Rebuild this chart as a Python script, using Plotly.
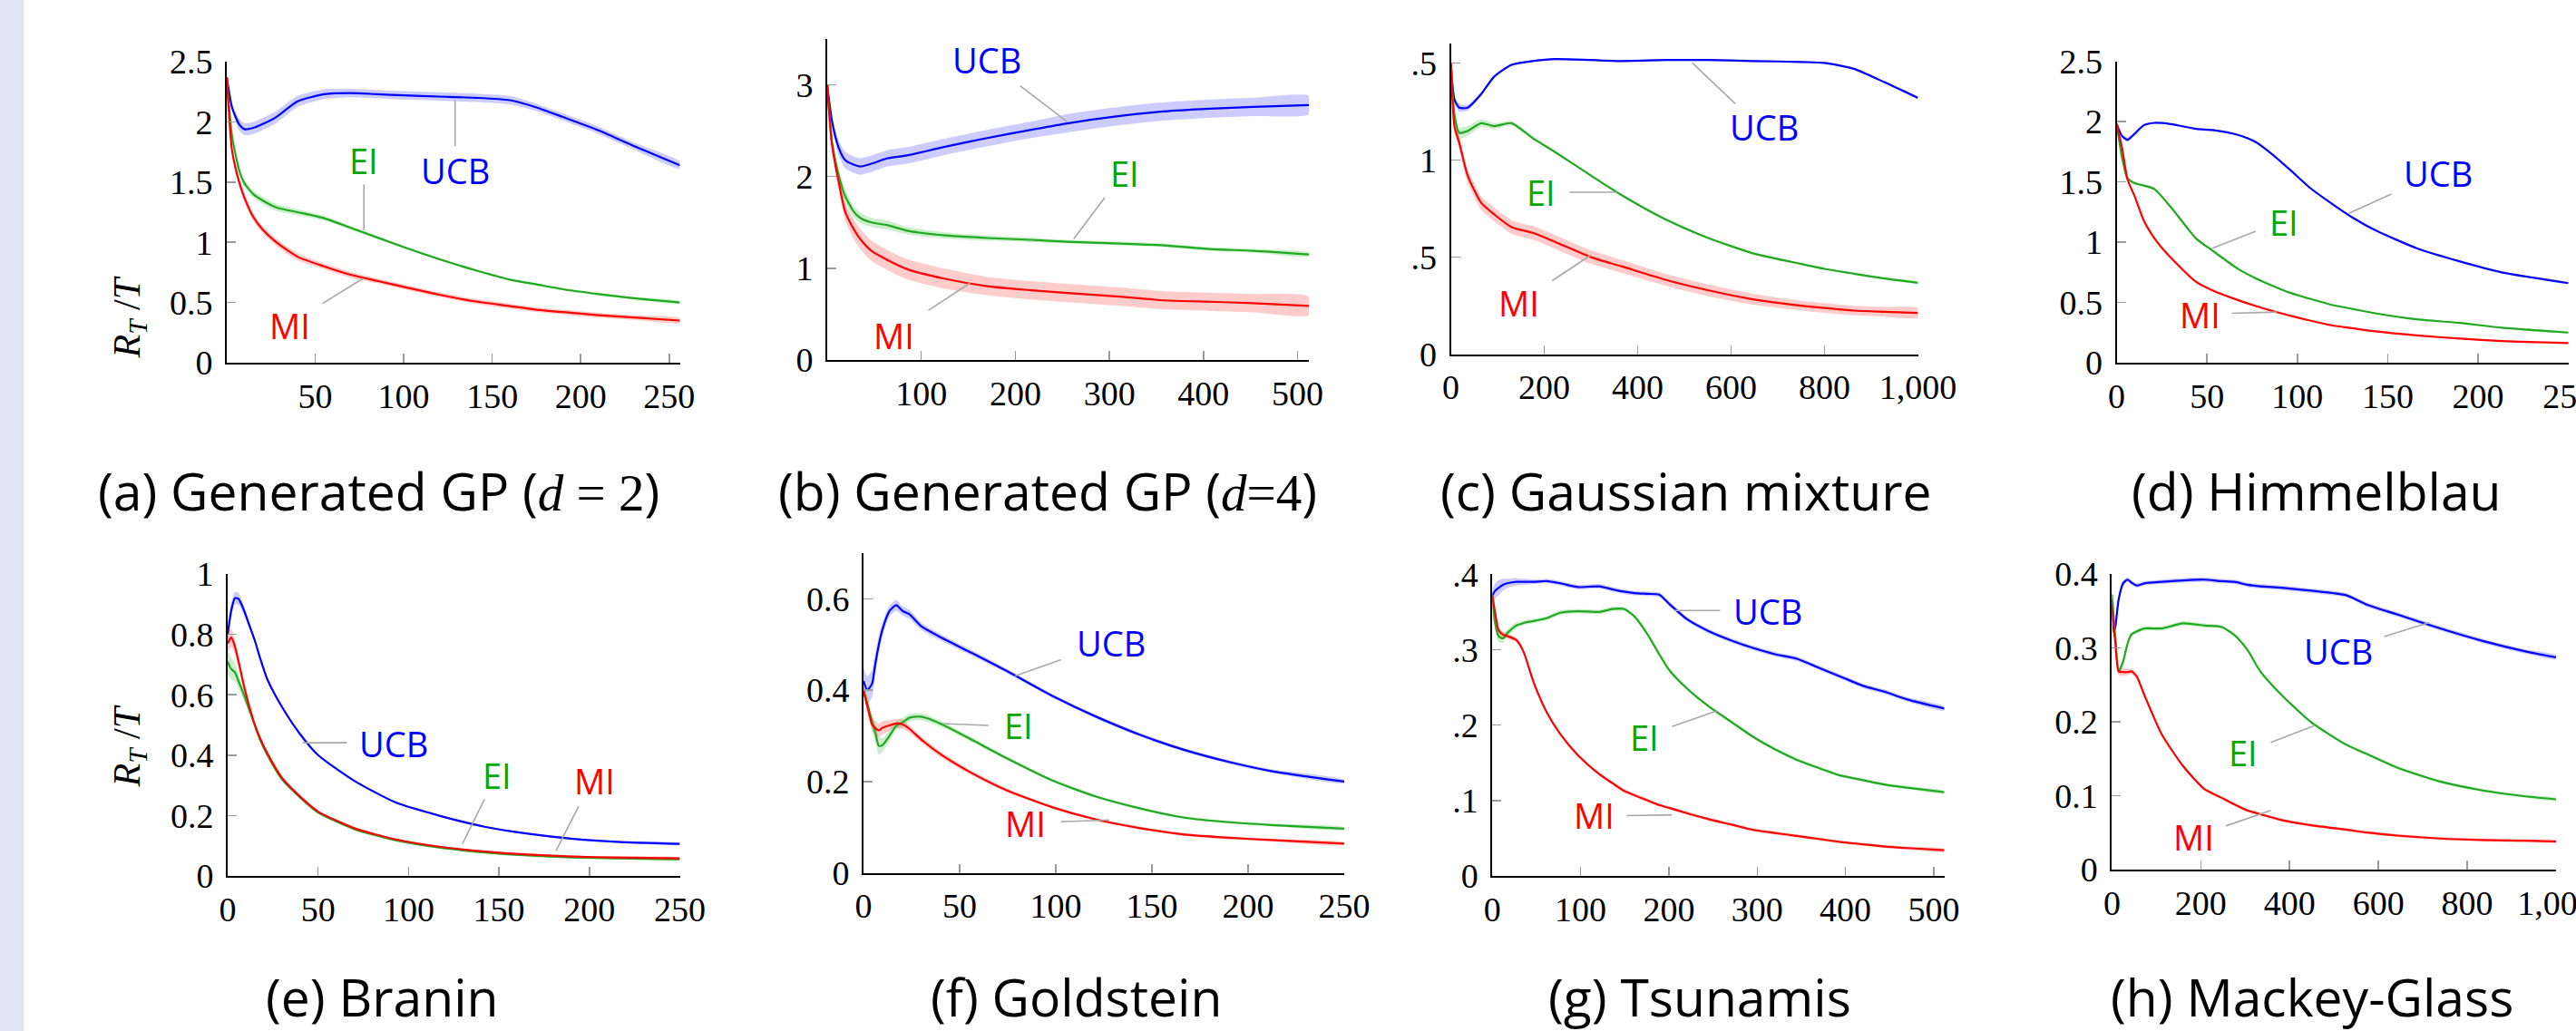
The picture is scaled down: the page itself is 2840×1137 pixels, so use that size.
import numpy as np
import plotly.graph_objects as go

W, H = 2840, 1137

# ---------------- data ----------------
# (a) Generated GP (d = 2)
A_X = [0, 3, 7, 10, 15, 20, 28, 40, 55, 70, 85, 100, 120, 140, 160, 175, 190, 210, 230, 256]
A_UCB = [2.37, 2.12, 1.98, 1.94, 1.95, 1.98, 2.04, 2.17, 2.23, 2.24, 2.23, 2.22, 2.21, 2.20, 2.18, 2.12, 2.04, 1.93, 1.80, 1.64]
A_EI = [2.37, 1.88, 1.60, 1.49, 1.40, 1.35, 1.29, 1.25, 1.20, 1.12, 1.04, 0.96, 0.86, 0.77, 0.69, 0.65, 0.61, 0.57, 0.535, 0.50]
A_MI = [2.37, 1.76, 1.50, 1.37, 1.21, 1.11, 1.00, 0.88, 0.80, 0.73, 0.68, 0.63, 0.565, 0.51, 0.47, 0.44, 0.42, 0.395, 0.375, 0.35]
A_UCB_SD = [0.0, 0.03, 0.05, 0.05, 0.05, 0.05, 0.05, 0.045, 0.04, 0.035, 0.035, 0.035, 0.035, 0.035, 0.035, 0.03, 0.03, 0.03, 0.03, 0.03]
A_EI_SD = [0.0, 0.02, 0.03, 0.03, 0.03, 0.03, 0.03, 0.025, 0.02, 0.015, 0.012, 0.01, 0.01, 0.01, 0.01, 0.01, 0.01, 0.01, 0.01, 0.01]
A_MI_SD = [0.0, 0.03, 0.04, 0.04, 0.035, 0.03, 0.03, 0.03, 0.025, 0.025, 0.02, 0.02, 0.02, 0.02, 0.02, 0.02, 0.02, 0.02, 0.02, 0.02]

# (b) Generated GP (d=4)
B_X = [0, 5, 12, 19, 28, 35, 47, 64, 85, 123, 170, 217, 255, 311, 358, 406, 453, 512]
B_UCB = [3.0, 2.61, 2.32, 2.18, 2.13, 2.11, 2.14, 2.20, 2.23, 2.32, 2.42, 2.51, 2.58, 2.66, 2.71, 2.74, 2.76, 2.78]
B_EI = [3.0, 2.38, 2.02, 1.79, 1.62, 1.55, 1.50, 1.47, 1.41, 1.36, 1.33, 1.31, 1.29, 1.27, 1.25, 1.21, 1.19, 1.15]
B_MI = [3.0, 2.35, 1.95, 1.62, 1.43, 1.32, 1.19, 1.09, 0.99, 0.89, 0.805, 0.76, 0.73, 0.69, 0.65, 0.635, 0.62, 0.59]
B_UCB_SD = [0.0, 0.05, 0.08, 0.09, 0.09, 0.09, 0.09, 0.09, 0.09, 0.09, 0.09, 0.09, 0.1, 0.1, 0.1, 0.1, 0.1, 0.1]
B_EI_SD = [0.0, 0.05, 0.07, 0.07, 0.06, 0.06, 0.05, 0.05, 0.04, 0.035, 0.03, 0.025, 0.02, 0.02, 0.02, 0.02, 0.02, 0.02]
B_MI_SD = [0.0, 0.06, 0.09, 0.1, 0.11, 0.11, 0.11, 0.11, 0.11, 0.11, 0.1, 0.1, 0.1, 0.1, 0.1, 0.1, 0.1, 0.1]

# (c) Gaussian mixture
C_X = [0, 8, 18, 36, 65, 93, 130, 177, 224, 300, 365, 459, 550, 647, 750, 800, 863, 929, 1000]
C_UCB = [1.50, 1.31, 1.27, 1.27, 1.34, 1.43, 1.49, 1.51, 1.52, 1.515, 1.51, 1.515, 1.515, 1.51, 1.505, 1.50, 1.47, 1.40, 1.32]
C_EI = [1.50, 1.23, 1.14, 1.15, 1.19, 1.175, 1.19, 1.11, 1.04, 0.92, 0.82, 0.695, 0.60, 0.52, 0.465, 0.44, 0.415, 0.39, 0.368]
C_MI = [1.50, 1.17, 1.09, 0.92, 0.78, 0.72, 0.655, 0.624, 0.578, 0.50, 0.453, 0.384, 0.33, 0.283, 0.25, 0.238, 0.225, 0.219, 0.213]
C_UCB_SD = [0.0, 0.02, 0.02, 0.015, 0.01, 0.008, 0.005, 0.005, 0.005, 0.005, 0.005, 0.005, 0.005, 0.005, 0.005, 0.005, 0.005, 0.005, 0.005]
C_EI_SD = [0.0, 0.03, 0.03, 0.025, 0.02, 0.015, 0.01, 0.008, 0.005, 0.005, 0.005, 0.005, 0.005, 0.005, 0.005, 0.005, 0.005, 0.005, 0.005]
C_MI_SD = [0.0, 0.03, 0.035, 0.035, 0.035, 0.035, 0.035, 0.035, 0.035, 0.035, 0.033, 0.03, 0.03, 0.028, 0.025, 0.025, 0.025, 0.025, 0.025]

# (d) Himmelblau
D_X = [0, 3, 6, 10, 15, 21, 30, 44, 53, 67, 77, 86, 96, 107, 119, 131, 143, 166, 190, 213, 250]
D_UCB = [1.98, 1.88, 1.85, 1.90, 1.97, 1.99, 1.98, 1.94, 1.93, 1.89, 1.83, 1.73, 1.60, 1.45, 1.32, 1.20, 1.10, 0.95, 0.84, 0.75, 0.66]
D_EI = [1.98, 1.70, 1.53, 1.49, 1.47, 1.44, 1.29, 1.03, 0.93, 0.78, 0.70, 0.64, 0.58, 0.53, 0.48, 0.445, 0.41, 0.36, 0.33, 0.29, 0.25]
D_MI = [1.98, 1.78, 1.52, 1.38, 1.18, 1.03, 0.87, 0.67, 0.60, 0.52, 0.47, 0.43, 0.39, 0.35, 0.31, 0.285, 0.26, 0.226, 0.20, 0.18, 0.163]
D_UCB_SD = [0.0, 0.015, 0.02, 0.015, 0.01, 0.008, 0.006, 0.005, 0.005, 0.005, 0.005, 0.005, 0.005, 0.005, 0.005, 0.005, 0.005, 0.005, 0.005, 0.005, 0.005]
D_EI_SD = [0.0, 0.015, 0.015, 0.012, 0.01, 0.008, 0.006, 0.005, 0.005, 0.005, 0.005, 0.005, 0.005, 0.005, 0.005, 0.005, 0.005, 0.005, 0.005, 0.005, 0.005]
D_MI_SD = [0.0, 0.008, 0.008, 0.006, 0.005, 0.005, 0.005, 0.005, 0.005, 0.005, 0.005, 0.005, 0.005, 0.005, 0.005, 0.005, 0.005, 0.005, 0.005, 0.005, 0.005]

# (e) Branin
E_X = [0, 2, 4, 6, 9, 12, 15, 18, 22, 30, 40, 50, 70, 93, 118, 142, 166, 191, 215, 250]
E_UCB = [0.80, 0.88, 0.92, 0.918, 0.88, 0.83, 0.78, 0.72, 0.65, 0.56, 0.47, 0.40, 0.315, 0.243, 0.198, 0.163, 0.14, 0.123, 0.113, 0.106]
E_EI = [0.71, 0.685, 0.675, 0.645, 0.60, 0.55, 0.50, 0.45, 0.40, 0.32, 0.26, 0.21, 0.155, 0.118, 0.093, 0.078, 0.068, 0.061, 0.058, 0.055]
E_MI = [0.77, 0.79, 0.76, 0.71, 0.63, 0.56, 0.50, 0.455, 0.405, 0.325, 0.263, 0.213, 0.158, 0.121, 0.096, 0.081, 0.071, 0.064, 0.061, 0.058]
E_UCB_SD = [0.03, 0.025, 0.02, 0.02, 0.015, 0.01, 0.008, 0.006, 0.005, 0.004, 0.003, 0.003, 0.003, 0.003, 0.003, 0.003, 0.003, 0.003, 0.003, 0.003]
E_EI_SD = [0.04, 0.035, 0.03, 0.025, 0.02, 0.015, 0.01, 0.008, 0.006, 0.004, 0.003, 0.003, 0.003, 0.003, 0.003, 0.003, 0.003, 0.003, 0.003, 0.003]
E_MI_SD = [0.03, 0.03, 0.025, 0.02, 0.015, 0.012, 0.01, 0.008, 0.006, 0.004, 0.003, 0.003, 0.003, 0.003, 0.003, 0.003, 0.003, 0.003, 0.003, 0.003]

# (f) Goldstein
F_X = [0, 2, 4.5, 6, 8, 10, 13.5, 17, 20.5, 24, 30, 41, 57, 75, 98, 121, 144, 167, 190, 212, 250]
F_UCB = [0.42, 0.40, 0.415, 0.454, 0.50, 0.535, 0.573, 0.586, 0.573, 0.566, 0.54, 0.514, 0.48, 0.441, 0.388, 0.342, 0.302, 0.269, 0.243, 0.223, 0.20]
F_EI = [0.40, 0.37, 0.33, 0.31, 0.278, 0.28, 0.30, 0.322, 0.33, 0.34, 0.342, 0.325, 0.29, 0.25, 0.203, 0.167, 0.141, 0.121, 0.111, 0.105, 0.097]
F_MI = [0.40, 0.365, 0.325, 0.318, 0.312, 0.318, 0.323, 0.327, 0.325, 0.315, 0.292, 0.257, 0.217, 0.18, 0.144, 0.117, 0.098, 0.084, 0.077, 0.072, 0.064]
F_UCB_SD = [0.03, 0.03, 0.03, 0.025, 0.02, 0.015, 0.012, 0.012, 0.01, 0.01, 0.008, 0.007, 0.006, 0.005, 0.004, 0.004, 0.004, 0.004, 0.004, 0.004, 0.004]
F_EI_SD = [0.01, 0.015, 0.02, 0.02, 0.02, 0.015, 0.012, 0.01, 0.01, 0.008, 0.008, 0.006, 0.005, 0.004, 0.003, 0.003, 0.003, 0.003, 0.003, 0.003, 0.003]
F_MI_SD = [0.01, 0.012, 0.015, 0.015, 0.015, 0.015, 0.012, 0.01, 0.01, 0.008, 0.007, 0.006, 0.005, 0.004, 0.003, 0.003, 0.003, 0.003, 0.003, 0.003, 0.003]

# (g) Tsunamis
G_X = [0, 3, 7, 12, 17, 27, 32, 37, 47, 62, 77, 97, 121, 136, 149, 161, 176, 189, 201, 221, 246, 271, 296, 320, 345, 370, 395, 420, 445, 470, 512]
G_UCB = [0.372, 0.378, 0.382, 0.386, 0.388, 0.390, 0.390, 0.390, 0.390, 0.391, 0.388, 0.383, 0.384, 0.380, 0.377, 0.375, 0.374, 0.373, 0.360, 0.340, 0.324, 0.312, 0.302, 0.294, 0.288, 0.276, 0.264, 0.252, 0.244, 0.234, 0.222]
G_EI = [0.372, 0.336, 0.318, 0.315, 0.322, 0.332, 0.334, 0.336, 0.338, 0.342, 0.349, 0.351, 0.350, 0.354, 0.354, 0.344, 0.320, 0.294, 0.272, 0.248, 0.224, 0.204, 0.184, 0.168, 0.154, 0.143, 0.133, 0.127, 0.121, 0.117, 0.111]
G_MI = [0.372, 0.350, 0.326, 0.320, 0.318, 0.313, 0.305, 0.292, 0.256, 0.216, 0.188, 0.160, 0.135, 0.123, 0.113, 0.107, 0.100, 0.094, 0.090, 0.083, 0.075, 0.068, 0.061, 0.057, 0.053, 0.049, 0.045, 0.042, 0.039, 0.037, 0.034]
G_UCB_SD = [0.008, 0.01, 0.01, 0.008, 0.006, 0.005, 0.004, 0.004, 0.003, 0.003, 0.003, 0.003, 0.003, 0.003, 0.003, 0.003, 0.003, 0.003, 0.003, 0.003, 0.003, 0.003, 0.003, 0.003, 0.003, 0.003, 0.003, 0.003, 0.003, 0.003, 0.003]
G_EI_SD = [0.005, 0.008, 0.008, 0.006, 0.005, 0.004, 0.003, 0.003, 0.003, 0.003, 0.003, 0.003, 0.003, 0.003, 0.003, 0.002, 0.002, 0.002, 0.002, 0.002, 0.002, 0.002, 0.002, 0.002, 0.002, 0.002, 0.002, 0.002, 0.002, 0.002, 0.002]
G_MI_SD = [0.004, 0.005, 0.005, 0.004, 0.004, 0.003, 0.003, 0.003, 0.003, 0.002, 0.002, 0.002, 0.002, 0.002, 0.002, 0.002, 0.002, 0.002, 0.002, 0.002, 0.002, 0.002, 0.002, 0.002, 0.002, 0.002, 0.002, 0.002, 0.002, 0.002, 0.002]

# (h) Mackey-Glass
H_X = [0, 4, 8, 15, 25, 35, 44, 56, 73, 112, 160, 208, 247, 276, 305, 334, 382, 449, 527, 575, 642, 739, 835, 931, 1000]
H_UCB = [0.365, 0.32, 0.33, 0.365, 0.387, 0.392, 0.388, 0.384, 0.387, 0.389, 0.391, 0.392, 0.390, 0.389, 0.385, 0.383, 0.381, 0.377, 0.371, 0.358, 0.345, 0.326, 0.309, 0.295, 0.287]
H_EI = [0.372, 0.34, 0.31, 0.268, 0.281, 0.305, 0.318, 0.322, 0.326, 0.326, 0.333, 0.330, 0.328, 0.317, 0.297, 0.268, 0.236, 0.199, 0.169, 0.156, 0.138, 0.119, 0.107, 0.099, 0.095]
H_MI = [0.358, 0.33, 0.305, 0.268, 0.267, 0.267, 0.268, 0.261, 0.236, 0.183, 0.140, 0.109, 0.097, 0.088, 0.080, 0.075, 0.067, 0.060, 0.054, 0.050, 0.046, 0.042, 0.040, 0.039, 0.038]
H_UCB_SD = [0.005, 0.006, 0.006, 0.005, 0.004, 0.003, 0.003, 0.003, 0.003, 0.003, 0.003, 0.003, 0.003, 0.003, 0.003, 0.003, 0.003, 0.003, 0.003, 0.003, 0.003, 0.003, 0.003, 0.003, 0.003]
H_EI_SD = [0.004, 0.005, 0.005, 0.004, 0.004, 0.003, 0.003, 0.003, 0.003, 0.003, 0.003, 0.003, 0.002, 0.002, 0.002, 0.002, 0.002, 0.002, 0.002, 0.002, 0.002, 0.002, 0.002, 0.002, 0.002]
H_MI_SD = [0.004, 0.005, 0.005, 0.005, 0.005, 0.004, 0.004, 0.003, 0.003, 0.002, 0.002, 0.002, 0.002, 0.002, 0.002, 0.002, 0.002, 0.002, 0.002, 0.002, 0.002, 0.002, 0.002, 0.002, 0.002]

# tick labels
A_XTICKS = [50, 100, 150, 200, 250]
A_YTICKS = [0, 0.5, 1, 1.5, 2, 2.5]
A_YTEXT = ["0", "0.5", "1", "1.5", "2", "2.5"]
B_XTICKS = [100, 200, 300, 400, 500]
B_YTICKS = [0, 1, 2, 3]
B_YTEXT = ["0", "1", "2", "3"]
C_XTICKS = [0, 200, 400, 600, 800, 1000]
C_XTEXT = ["0", "200", "400", "600", "800", "1,000"]
C_YTICKS = [0, 0.5, 1, 1.5]
C_YTEXT = ["0", ".5", "1", ".5"]
D_XTICKS = [0, 50, 100, 150, 200, 250]
D_YTICKS = [0, 0.5, 1, 1.5, 2, 2.5]
D_YTEXT = ["0", "0.5", "1", "1.5", "2", "2.5"]
E_XTICKS = [0, 50, 100, 150, 200, 250]
E_YTICKS = [0, 0.2, 0.4, 0.6, 0.8, 1]
E_YTEXT = ["0", "0.2", "0.4", "0.6", "0.8", "1"]
F_XTICKS = [0, 50, 100, 150, 200, 250]
F_YTICKS = [0, 0.2, 0.4, 0.6]
F_YTEXT = ["0", "0.2", "0.4", "0.6"]
G_XTICKS = [0, 100, 200, 300, 400, 500]
G_YTICKS = [0, 0.1, 0.2, 0.3, 0.4]
G_YTEXT = ["0", ".1", ".2", ".3", ".4"]
H_XTICKS = [0, 200, 400, 600, 800, 1000]
H_XTEXT = ["0", "200", "400", "600", "800", "1,000"]
H_YTICKS = [0, 0.1, 0.2, 0.3, 0.4]
H_YTEXT = ["0", "0.1", "0.2", "0.3", "0.4"]

SERIF = "'Liberation Serif', 'DejaVu Serif', serif"
SANS = "'Open Sans', Lato, sans-serif"
TITLES = [
    "(a) Generated GP (<span style=\"font-family:Liberation Serif\"><i>d</i> = 2</span>)",
    "(b) Generated GP (<span style=\"font-family:Liberation Serif\"><i>d</i>=4</span>)",
    "(c) Gaussian mixture",
    "(d) Himmelblau",
    "(e) Branin",
    "(f) Goldstein",
    "(g) Tsunamis",
    "(h) Mackey-Glass",
]

# label positions (x, y) and leader lines (x0, y0, x1, y1) in data units
A_LAB = {"UCB": (129, 1.60, 129, 1.80, 129, 2.18), "EI": (77.5, 1.68, 77.5, 1.48, 77.5, 1.10), "MI": (35.5, 0.31, 54, 0.49, 77, 0.70)}
B_LAB = {"UCB": (170, 3.27, 205, 2.99, 255, 2.60), "EI": (316, 2.04, 295, 1.77, 262, 1.32), "MI": (71, 0.27, 107.5, 0.54, 152, 0.84)}
C_LAB = {"UCB": (670, 1.17, 609, 1.29, 517, 1.50), "EI": (193, 0.834, 254, 0.834, 356, 0.834), "MI": (145, 0.267, 217, 0.379, 300, 0.511)}
D_LAB = {"UCB": (178, 1.57, 152, 1.40, 128.5, 1.24), "EI": (92.7, 1.166, 77, 1.09, 53, 0.95), "MI": (45.9, 0.40, 63.7, 0.41, 88.4, 0.42)}
E_LAB = {"UCB": (92, 0.439, 65.9, 0.441, 41.5, 0.441), "EI": (148.8, 0.334, 142, 0.254, 129.8, 0.106), "MI": (203, 0.314, 194, 0.23, 181.5, 0.083)}
F_LAB = {"UCB": (129, 0.504, 102.7, 0.467, 78.8, 0.431), "EI": (80.6, 0.322, 65, 0.323, 41, 0.327), "MI": (84, 0.109, 102.7, 0.112, 127.9, 0.116)}
G_LAB = {"UCB": (312, 0.351, 258, 0.352, 206, 0.352), "EI": (172, 0.184, 203.5, 0.198, 254.7, 0.219), "MI": (115.4, 0.08, 152, 0.08, 203.5, 0.081)}
H_LAB = {"UCB": (509, 0.296, 613, 0.315, 714.6, 0.334), "EI": (295, 0.158, 357.8, 0.172, 457, 0.195), "MI": (184, 0.044, 256.5, 0.059, 357.8, 0.08)}

# ---------------- layout geometry (pixels) ----------------
PANELS = [
    dict(X=A_X, S=[A_UCB, A_EI, A_MI], SD=[A_UCB_SD, A_EI_SD, A_MI_SD], LAB=A_LAB,
         xr=[0, 256], yr=[0, 2.5], xt=A_XTICKS, xtt=[str(v) for v in A_XTICKS], yt=A_YTICKS, ytt=A_YTEXT,
         px=(250, 749.5), py=(68, 400)),
    dict(X=B_X, S=[B_UCB, B_EI, B_MI], SD=[B_UCB_SD, B_EI_SD, B_MI_SD], LAB=B_LAB,
         xr=[0, 512], yr=[0, 3.5], xt=B_XTICKS, xtt=[str(v) for v in B_XTICKS], yt=B_YTICKS, ytt=B_YTEXT,
         px=(912, 1443), py=(43, 397)),
    dict(X=C_X, S=[C_UCB, C_EI, C_MI], SD=[C_UCB_SD, C_EI_SD, C_MI_SD], LAB=C_LAB,
         xr=[0, 1000], yr=[0, 1.6], xt=C_XTICKS, xtt=C_XTEXT, yt=C_YTICKS, ytt=C_YTEXT,
         px=(1599.5, 2114.5), py=(48, 390.7)),
    dict(X=D_X, S=[D_UCB, D_EI, D_MI], SD=[D_UCB_SD, D_EI_SD, D_MI_SD], LAB=D_LAB,
         xr=[0, 250], yr=[0, 2.5], xt=D_XTICKS, xtt=[str(v) for v in D_XTICKS], yt=D_YTICKS, ytt=D_YTEXT,
         px=(2333.6, 2831.7), py=(67.7, 400)),
    dict(X=E_X, S=[E_UCB, E_EI, E_MI], SD=[E_UCB_SD, E_EI_SD, E_MI_SD], LAB=E_LAB,
         xr=[0, 250], yr=[0, 1.0], xt=E_XTICKS, xtt=[str(v) for v in E_XTICKS], yt=E_YTICKS, ytt=E_YTEXT,
         px=(251, 749.5), py=(633, 966)),
    dict(X=F_X, S=[F_UCB, F_EI, F_MI], SD=[F_UCB_SD, F_EI_SD, F_MI_SD], LAB=F_LAB,
         xr=[0, 250], yr=[0, 0.7], xt=F_XTICKS, xtt=[str(v) for v in F_XTICKS], yt=F_YTICKS, ytt=F_YTEXT,
         px=(952, 1482), py=(610, 962.7)),
    dict(X=G_X, S=[G_UCB, G_EI, G_MI], SD=[G_UCB_SD, G_EI_SD, G_MI_SD], LAB=G_LAB,
         xr=[0, 512], yr=[0, 0.4], xt=G_XTICKS, xtt=[str(v) for v in G_XTICKS], yt=G_YTICKS, ytt=G_YTEXT,
         px=(1645.3, 2143.6), py=(633.3, 966)),
    dict(X=H_X, S=[H_UCB, H_EI, H_MI], SD=[H_UCB_SD, H_EI_SD, H_MI_SD], LAB=H_LAB,
         xr=[0, 1000], yr=[0, 0.4], xt=H_XTICKS, xtt=H_XTEXT, yt=H_YTICKS, ytt=H_YTEXT,
         px=(2328.4, 2818), py=(632.7, 959)),
]
TITLE_POS = [(417, 541), (1155, 541), (1859, 541), (2554, 541),
             (421, 1099), (1186, 1099), (1874, 1099), (2549, 1099)]

NAMES = ["UCB", "EI", "MI"]
LINE_COL = {"UCB": "#0000ff", "EI": "#1faa1f", "MI": "#ff0000"}
TEXT_COL = {"UCB": "#0000ff", "EI": "#00aa00", "MI": "#ff0000"}
BAND_COL = {"UCB": "rgba(0,0,255,0.2)", "EI": "rgba(0,170,0,0.2)", "MI": "rgba(255,0,0,0.2)"}

fig = go.Figure()
layout = dict(width=W, height=H, margin=dict(l=0, r=0, t=0, b=0),
              paper_bgcolor="white", plot_bgcolor="white", showlegend=False)
annotations = []
shapes = [dict(type="rect", xref="paper", yref="paper", x0=0, x1=26 / W, y0=0, y1=1,
               fillcolor="#e1e2f4", line=dict(width=0), layer="below")]

for i, p in enumerate(PANELS, start=1):
    xa = "x" if i == 1 else f"x{i}"
    ya = "y" if i == 1 else f"y{i}"
    x = np.array(p["X"], dtype=float)
    for name, s, sd in zip(NAMES, p["S"], p["SD"]):
        y = np.array(s); d = np.array(sd)
        up = y + d; lo = y - d
        fig.add_trace(go.Scatter(x=np.concatenate([x, x[::-1]]), y=np.concatenate([up, lo[::-1]]),
                                 fill="toself", fillcolor=BAND_COL[name],
                                 line=dict(width=0, shape="spline", smoothing=0.6),
                                 mode="lines", hoverinfo="skip", xaxis=xa, yaxis=ya))
    for name, s in zip(NAMES, p["S"]):
        fig.add_trace(go.Scatter(x=x, y=s, mode="lines",
                                 line=dict(color=LINE_COL[name], width=2.2, shape="spline", smoothing=0.6),
                                 xaxis=xa, yaxis=ya))
    common = dict(showline=True, linecolor="black", linewidth=2, ticks="inside", ticklen=10,
                  tickwidth=1.5, tickcolor="#9a9a9a", showgrid=False, zeroline=False,
                  tickfont=dict(family=SERIF, size=38, color="black"), fixedrange=True,
                  automargin=False, ticklabeloverflow="allow")
    layout["xaxis" if i == 1 else f"xaxis{i}"] = dict(
        common, domain=[p["px"][0] / W, p["px"][1] / W], range=p["xr"], anchor=ya,
        tickmode="array", tickvals=p["xt"], ticktext=p["xtt"], ticklabelstandoff=2)
    layout["yaxis" if i == 1 else f"yaxis{i}"] = dict(
        common, domain=[1 - p["py"][1] / H, 1 - p["py"][0] / H], range=p["yr"], anchor=xa,
        tickmode="array", tickvals=p["yt"], ticktext=p["ytt"], ticklabelstandoff=6)
    for name in NAMES:
        lx, ly, x0, y0, x1, y1 = p["LAB"][name]
        annotations.append(dict(x=lx, y=ly, xref=xa, yref=ya, text=name, showarrow=False,
                                font=dict(family=SANS, size=38, color=TEXT_COL[name])))
        shapes.append(dict(type="line", xref=xa, yref=ya, x0=x0, y0=y0, x1=x1, y1=y1,
                           line=dict(color="#a8a8a8", width=1.6)))
    tx, ty = TITLE_POS[i - 1]
    annotations.append(dict(x=tx / W, y=1 - ty / H, xref="paper", yref="paper", text=TITLES[i - 1],
                            showarrow=False, xanchor="center", yanchor="middle",
                            font=dict(family=SANS, size=57, color="black")))

for yc in (303, 871):
    annotations.append(dict(x=114 / W, y=1 - yc / H, xref="paper", yref="paper",
                            text="<i>R</i><sub><i>T</i></sub> /<i>T</i>", textangle=-90, showarrow=False,
                            font=dict(family=SERIF, size=42, color="black")))

layout["annotations"] = annotations
layout["shapes"] = shapes
fig.update_layout(**layout)
fig.write_html("out.html", config={"displayModeBar": False, "staticPlot": True},
               post_script="document.body.style.margin='0';document.body.style.overflow='hidden';")
